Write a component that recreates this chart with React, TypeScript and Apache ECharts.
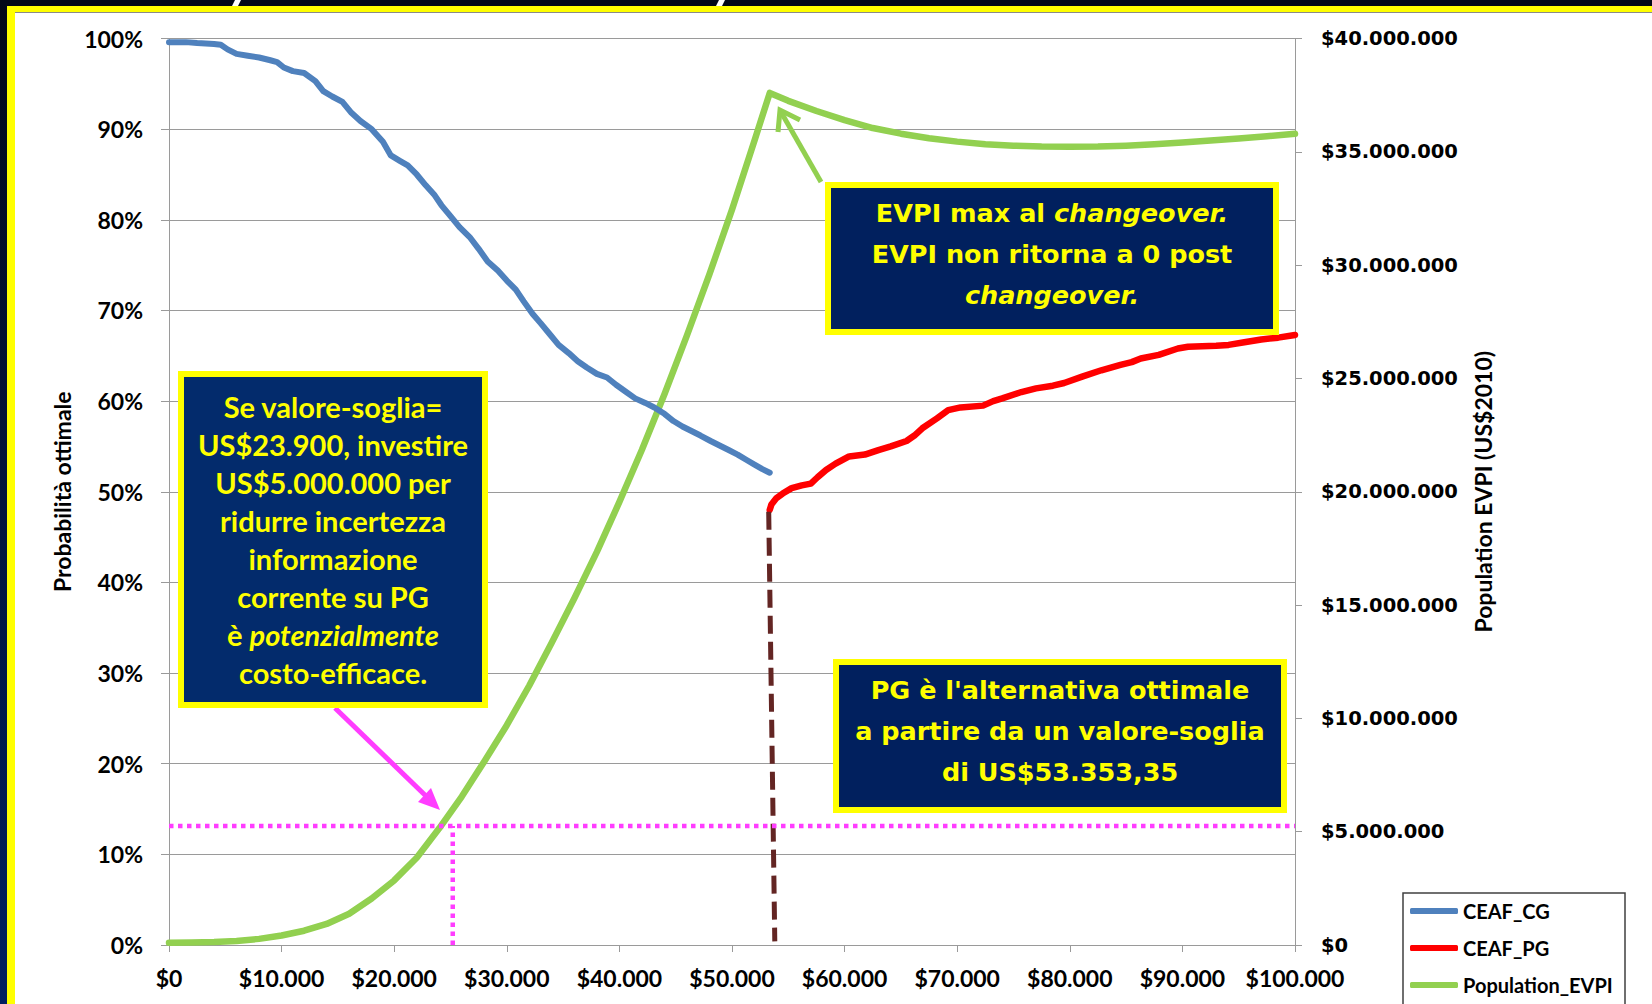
import React, { useEffect, useRef } from "react";
import * as echarts from "echarts";

// ---------- data ----------
const SERIES_NAMES = ["CEAF_CG", "CEAF_PG", "Population_EVPI"];

// willingness-to-pay threshold ($) vs probability optimal (%)
const CEAF_CG: [number, number][] = [
  [0, 99.6], [1500, 99.6], [2500, 99.5], [4000, 99.4], [4600, 99.3], [5200, 98.8],
  [6000, 98.3], [7000, 98.1], [8000, 97.9], [9000, 97.6], [9600, 97.4], [10200, 96.8],
  [11000, 96.4], [12000, 96.2], [13000, 95.3], [13700, 94.2], [14500, 93.6], [15400, 93.0],
  [16200, 91.8], [17000, 90.9], [18000, 90.0], [19000, 88.6], [19700, 87.1], [20500, 86.5],
  [21200, 86.0], [22000, 85.0], [22800, 83.8], [23600, 82.7], [24200, 81.6], [25000, 80.4],
  [25800, 79.2], [26700, 78.1], [27500, 76.8], [28300, 75.4], [29200, 74.4], [30000, 73.3],
  [30800, 72.3], [31500, 71.0], [32300, 69.6], [33000, 68.6], [33800, 67.4], [34600, 66.2],
  [35500, 65.3], [36300, 64.4], [37100, 63.7], [38000, 63.0], [38900, 62.6], [39700, 61.8],
  [40600, 61.0], [41400, 60.3], [42300, 59.8], [43100, 59.3], [44000, 58.6], [44800, 57.8],
  [45600, 57.2], [46400, 56.7], [47200, 56.2], [48100, 55.6], [48900, 55.1], [49700, 54.6],
  [50500, 54.1], [51300, 53.5], [52000, 53.0], [52700, 52.5], [53350, 52.1],
];

const CEAF_PG: [number, number][] = [
  [53350, 48.0], [53500, 48.6], [53950, 49.3], [54500, 49.8], [55300, 50.4], [56200, 50.7],
  [57000, 50.9], [57600, 51.6], [58350, 52.4], [59200, 53.1], [60400, 53.9], [61800, 54.1],
  [63000, 54.6], [64100, 55.0], [65500, 55.6], [66200, 56.2], [66900, 57.0], [68200, 58.1],
  [69200, 59.0], [70300, 59.3], [72300, 59.5], [73200, 60.0], [74000, 60.3], [75700, 61.0],
  [77000, 61.4], [78500, 61.7], [79500, 62.0], [81100, 62.7], [82800, 63.4], [84500, 64.0],
  [85500, 64.3], [86300, 64.7], [87900, 65.1], [89600, 65.8], [90500, 66.0], [93000, 66.1],
  [94100, 66.2], [95500, 66.5], [97000, 66.8], [98500, 67.0], [100000, 67.3],
];

const POPULATION_EVPI: [number, number][] = [
  [0, 100000], [2000, 110000], [4000, 130000], [6000, 180000], [8000, 270000],
  [10000, 420000], [12000, 630000], [14000, 930000], [16000, 1380000], [18000, 2050000],
  [20000, 2850000], [22000, 3850000], [24000, 5150000], [26000, 6550000], [28000, 8100000],
  [30000, 9700000], [32000, 11450000], [34000, 13350000], [36000, 15300000], [38000, 17350000],
  [40000, 19550000], [42000, 21850000], [44000, 24300000], [46000, 26900000], [48000, 29600000],
  [50000, 32450000], [52000, 35500000], [53353, 37600000], [55000, 37250000], [57500, 36800000],
  [60000, 36400000], [62500, 36050000], [65000, 35800000], [67500, 35600000], [70000, 35450000],
  [72500, 35330000], [75000, 35270000], [77500, 35230000], [80000, 35220000], [82500, 35230000],
  [85000, 35270000], [87500, 35330000], [90000, 35410000], [92500, 35500000], [95000, 35590000],
  [97500, 35690000], [100000, 35800000],
];

const CHANGEOVER_LINE: [number, number][] = [[53260, 47.8], [53800, 0.4]];
const THRESHOLD_EVPI = 5250000;
const THRESHOLD_WTP = 25200;
const HORIZ_THRESHOLD: [number, number][] = [[0, THRESHOLD_EVPI], [100000, THRESHOLD_EVPI]];
const VERT_THRESHOLD: [number, number][] = [[THRESHOLD_WTP, 0], [THRESHOLD_WTP, THRESHOLD_EVPI]];

const LEFT_AXIS_NAME = "Probabilità ottimale";
const RIGHT_AXIS_NAME = "Population EVPI (US$2010)";

const BOX1_TEXT =
  "Se valore-soglia=\nUS$23.900, investire\nUS$5.000.000 per\nridurre incertezza\ninformazione\ncorrente su PG\nè {i|potenzialmente}\ncosto-efficace.";
const BOX2_TEXT = "EVPI max al {i|changeover.}\nEVPI non ritorna a 0 post\n{i|changeover.}";
const BOX3_TEXT = "PG è l'alternativa ottimale\na partire da un valore-soglia\ndi US$53.353,35";

// ---------- helpers ----------
const dots = (v: number) => String(Math.round(v)).replace(/\B(?=(\d{3})+(?!\d))/g, ".");
const CAL = "Lato, 'Noto Sans', sans-serif";
const VER = "'DejaVu Sans', Verdana, sans-serif";
const GRID_GRAY = "#9a9a9a";
const YELLOW = "#FFFF00";
const MAGENTA = "#FF3DFF";
const GREEN = "#92D050";

export default function App() {
  const ref = useRef<HTMLDivElement>(null);

  useEffect(() => {
    document.body.style.margin = "0";
    if (!ref.current) return;
    const chart = echarts.init(ref.current, null, { renderer: "svg" });

    const boxText = (
      cx: number, cy: number, text: string, size: number, family: string, lh: number
    ) => ({
      type: "text",
      z: 101,
      x: cx,
      y: cy,
      style: {
        text,
        fill: YELLOW,
        fontSize: size,
        fontWeight: "bold",
        fontFamily: family,
        align: "center",
        verticalAlign: "middle",
        lineHeight: lh,
        rich: {
          i: { fill: YELLOW, fontSize: size, fontWeight: "bold", fontStyle: "italic", fontFamily: family, lineHeight: lh },
        },
      },
    });

    const box = (x1: number, y1: number, x2: number, y2: number, fill: string) => ({
      type: "rect",
      z: 100,
      shape: { x: x1 + 3, y: y1 + 3, width: x2 - x1 - 6, height: y2 - y1 - 6 },
      style: { fill, stroke: YELLOW, lineWidth: 6 },
    });

    const option: any = {
      animation: false,
      backgroundColor: "#ffffff",
      grid: { left: 169, right: 357, top: 38.5, bottom: 59, containLabel: false },
      legend: {
        data: SERIES_NAMES,
        orient: "vertical",
        left: 1410,
        top: 901,
        itemWidth: 48,
        itemHeight: 6,
        itemGap: 17,
        padding: 0,
        icon: "roundRect",
        z: 20,
        textStyle: { fontFamily: CAL, fontWeight: "bold", fontSize: 20, lineHeight: 20, color: "#000" },
      },
      xAxis: {
        type: "value",
        min: 0,
        max: 100000,
        interval: 10000,
        axisLine: { show: true, onZero: false, lineStyle: { color: GRID_GRAY, width: 1 } },
        axisTick: { show: true, length: 7, lineStyle: { color: GRID_GRAY } },
        splitLine: { show: false },
        axisLabel: {
          margin: 21,
          fontFamily: CAL,
          fontWeight: "bold",
          fontSize: 23,
          color: "#000",
          formatter: (v: number) => "$" + dots(v),
        },
      },
      yAxis: [
        {
          type: "value",
          min: 0,
          max: 100,
          interval: 10,
          name: LEFT_AXIS_NAME,
          nameLocation: "middle",
          nameRotate: 90,
          nameGap: 96,
          nameTextStyle: { fontFamily: CAL, fontWeight: "bold", fontSize: 23, color: "#000" },
          axisLine: { show: true, lineStyle: { color: GRID_GRAY, width: 1 } },
          axisTick: { show: true, length: 8, lineStyle: { color: GRID_GRAY } },
          splitLine: { show: true, lineStyle: { color: GRID_GRAY, width: 1 } },
          axisLabel: {
            margin: 26,
            fontFamily: CAL,
            fontWeight: "bold",
            fontSize: 23,
            color: "#000",
            formatter: (v: number) => v + "%",
          },
        },
        {
          type: "value",
          position: "right",
          min: 0,
          max: 40000000,
          interval: 5000000,
          name: RIGHT_AXIS_NAME,
          nameLocation: "middle",
          nameRotate: 90,
          nameGap: 176,
          nameTextStyle: { fontFamily: CAL, fontWeight: "bold", fontSize: 23, color: "#000" },
          axisLine: { show: true, lineStyle: { color: GRID_GRAY, width: 1 } },
          axisTick: { show: true, length: 7, lineStyle: { color: GRID_GRAY } },
          splitLine: { show: false },
          axisLabel: {
            margin: 26,
            fontFamily: VER,
            fontWeight: "bold",
            fontSize: 19.5,
            color: "#000",
            formatter: (v: number) => "$" + dots(v),
          },
        },
      ],
      series: [
        {
          name: "Population_EVPI",
          type: "line",
          yAxisIndex: 1,
          data: POPULATION_EVPI,
          showSymbol: false,
          color: GREEN,
          lineStyle: { color: GREEN, width: 6.5, cap: "round", join: "round" },
          z: 3,
        },
        {
          name: "CEAF_CG",
          type: "line",
          yAxisIndex: 0,
          data: CEAF_CG,
          showSymbol: false,
          color: "#4F81BD",
          lineStyle: { color: "#4F81BD", width: 6, cap: "round", join: "round" },
          z: 4,
        },
        {
          name: "CEAF_PG",
          type: "line",
          yAxisIndex: 0,
          data: CEAF_PG,
          showSymbol: false,
          color: "#FF0000",
          lineStyle: { color: "#FF0000", width: 6.5, cap: "round", join: "round" },
          z: 4,
        },
        {
          name: "changeover",
          type: "line",
          yAxisIndex: 0,
          data: CHANGEOVER_LINE,
          showSymbol: false,
          lineStyle: { color: "#632523", width: 5, type: [18, 8] },
          z: 5,
        },
        {
          name: "threshold_h",
          type: "line",
          yAxisIndex: 1,
          data: HORIZ_THRESHOLD,
          showSymbol: false,
          lineStyle: { color: MAGENTA, width: 4.5, type: [4.5, 4.5] },
          z: 5,
        },
        {
          name: "threshold_v",
          type: "line",
          yAxisIndex: 1,
          data: VERT_THRESHOLD,
          showSymbol: false,
          lineStyle: { color: MAGENTA, width: 4.5, type: [4.5, 4.5] },
          z: 5,
        },
      ],
      graphic: [
        // slide frame
        {
          type: "rect",
          z: 50,
          shape: { x: 0, y: 0, width: 1652, height: 6 },
          style: { fill: "#020818" },
        },
        {
          type: "rect",
          z: 50,
          shape: { x: 0, y: 0, width: 7, height: 1004 },
          style: {
            fill: new echarts.graphic.LinearGradient(0, 0, 0, 1, [
              { offset: 0, color: "#020818" },
              { offset: 1, color: "#002060" },
            ]),
          },
        },
        {
          type: "rect",
          z: 51,
          shape: { x: 7, y: 6, width: 1645, height: 6 },
          style: { fill: YELLOW },
        },
        {
          type: "rect",
          z: 51,
          shape: { x: 7, y: 6, width: 8, height: 998 },
          style: { fill: YELLOW },
        },
        {
          type: "line",
          z: 51,
          shape: { x1: 15, y1: 12.5, x2: 1652, y2: 12.5 },
          style: { stroke: "#8a8a8a", lineWidth: 1 },
        },
        {
          type: "polygon",
          z: 52,
          shape: { points: [[235, 0], [241, 0], [238, 6], [232, 6]] },
          style: { fill: "#ffffff" },
        },
        {
          type: "polygon",
          z: 52,
          shape: { points: [[719, 0], [725, 0], [722, 6], [716, 6]] },
          style: { fill: "#ffffff" },
        },
        // legend frame
        {
          type: "rect",
          z: 1,
          shape: { x: 1403, y: 893, width: 222, height: 130 },
          style: { fill: "#ffffff", stroke: "#404040", lineWidth: 1.5 },
        },
        // magenta arrow
        {
          type: "line",
          z: 60,
          shape: { x1: 335, y1: 708, x2: 427, y2: 797 },
          style: { stroke: MAGENTA, lineWidth: 5 },
        },
        {
          type: "polygon",
          z: 60,
          shape: { points: [[440, 810], [418, 802], [431, 788]] },
          style: { fill: MAGENTA },
        },
        // green arrow
        {
          type: "line",
          z: 60,
          shape: { x1: 821, y1: 182, x2: 781, y2: 112 },
          style: { stroke: GREEN, lineWidth: 5 },
        },
        {
          type: "polyline",
          z: 60,
          shape: { points: [[800, 120], [780, 110], [778, 132]] },
          style: { stroke: GREEN, lineWidth: 5, fill: null },
        },
        // annotation boxes
        box(178, 371, 488, 708, "#032B6C"),
        boxText(333, 539.5, BOX1_TEXT, 29, CAL, 38),
        box(825, 182, 1279, 335, "#01205E"),
        boxText(1052, 254, BOX2_TEXT, 25.5, VER, 41),
        box(833, 659, 1287, 813, "#01205E"),
        boxText(1060, 731, BOX3_TEXT, 25.5, VER, 41),
      ],
    };

    chart.setOption(option);
    return () => chart.dispose();
  }, []);

  return (
    <div
      ref={ref}
      style={{ position: "fixed", left: 0, top: 0, width: 1652, height: 1004, background: "#fff" }}
    />
  );
}
